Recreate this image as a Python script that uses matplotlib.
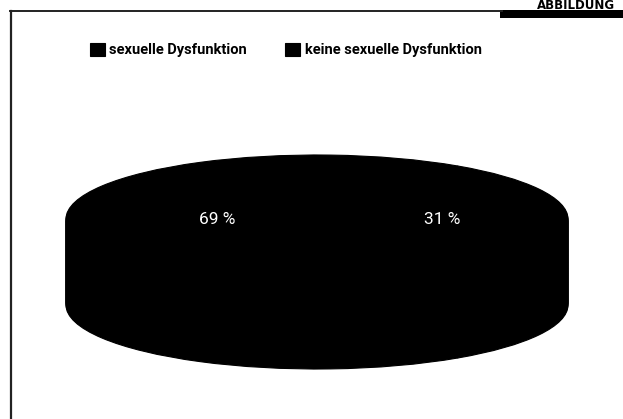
import numpy as np
import matplotlib
matplotlib.use("Agg")
import matplotlib.pyplot as plt
from matplotlib.lines import Line2D
from matplotlib.patches import Rectangle

# data
labels = ["sexuelle Dysfunktion", "keine sexuelle Dysfunktion"]
shares = [69, 31]
colors = ["#000000", "#000000"]

W, H = 623, 419
fig = plt.figure(figsize=(W / 100, H / 100), dpi=100)


def px_axes(x0, y0, x1, y1):
    # pixel box (top-left origin) -> figure axes
    return fig.add_axes([x0 / W, 1 - y1 / H, (x1 - x0) / W, (y1 - y0) / H])


# frame lines and header bar
fig.add_artist(Line2D([10.5 / W, 10.5 / W], [0, 1 - 11 / H], color="#222222", lw=1.6))
fig.add_artist(Line2D([10 / W, 502 / W], [1 - 11 / H, 1 - 11 / H], color="#222222", lw=1.4))
fig.add_artist(Rectangle((500 / W, 1 - 18 / H), 123 / W, 8 / H, color="black", lw=0))
fig.text(615 / W, 1 - 9 / H, "ABBILDUNG", ha="right", va="baseline",
         fontsize=8.5, fontweight="bold", family="DejaVu Sans")

# pie: top ellipse centre ~ (317, 219), rx 251, ry 64, depth 86 px
thick = 86 / 64
ax = px_axes(66, 155, 568, 369)

start = 180 + shares[0] / 100 * 180
for off in np.linspace(-thick, 0, 60)[:-1]:
    ax.pie(shares, colors=colors, center=(0, off), radius=1, startangle=start,
           counterclock=False, frame=True,
           wedgeprops=dict(edgecolor="black", linewidth=0.8))
wedges, _, pct = ax.pie(shares, colors=colors, center=(0, 0), radius=1,
                        startangle=start, counterclock=False, frame=True,
                        autopct=lambda p: f"{p:.0f} %", pctdistance=0.45,
                        wedgeprops=dict(edgecolor="black", linewidth=0.8))
ax.set_xlim(-1, 1)
ax.set_ylim(-1 - thick, 1)
ax.set_aspect("auto")
ax.axis("off")
for t, x in zip(pct, [-0.396, 0.50]):
    t.set_position((x, 0.0))
    t.set_color("white")
    t.set_fontsize(12.5)
    t.set_family("Roboto")
    t.set_fontweight("normal")

fig.legend(wedges, labels, loc="center left",
           bbox_to_anchor=(78 / W, 1 - 50 / H), ncol=2, frameon=False,
           handlelength=1.05, handleheight=1.05, handletextpad=0.3,
           columnspacing=2.6, borderpad=0.3,
           prop=dict(family="Roboto", weight="bold", size=10.5))

fig.savefig("out.png", dpi=100)
